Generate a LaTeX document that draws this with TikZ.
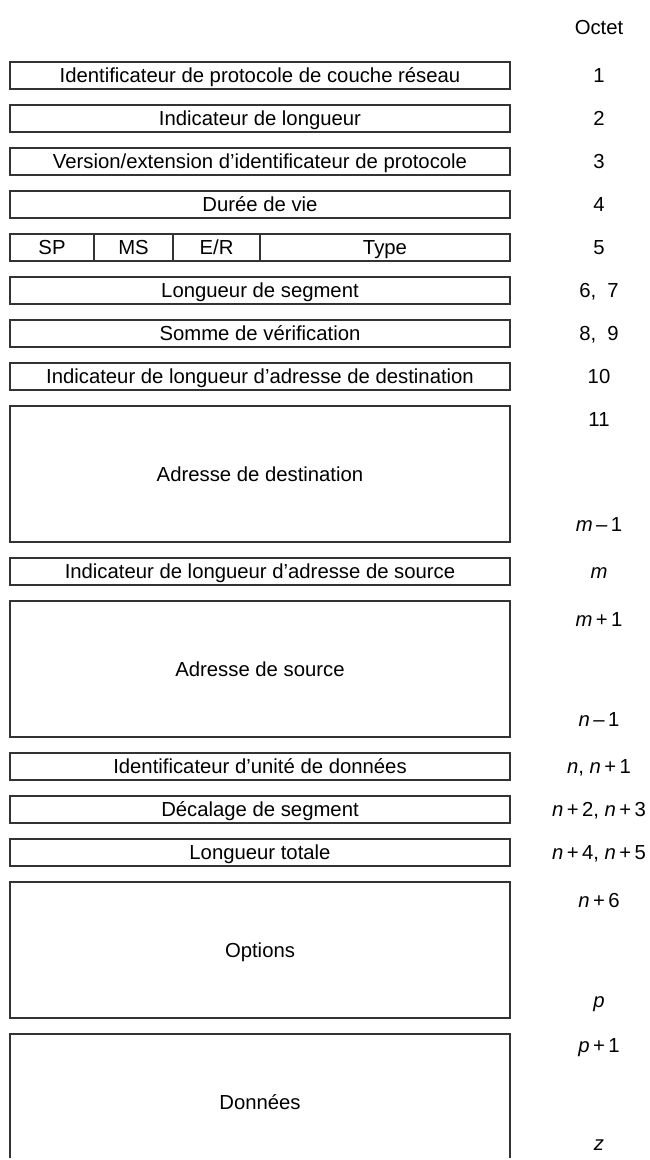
\documentclass[tikz,border=0pt]{standalone}
\usepackage{fontspec}
\setmainfont{Liberation Sans}
\usetikzlibrary{positioning}

\tikzset{
	trait/.style={draw=black!80, line width=1.1pt},
	champ/.style={trait, minimum width=500pt, minimum height=27pt, inner sep=0pt, outer sep=0pt,
		text height=14.6pt, text depth=0pt, font=\fontsize{20.3}{24}\selectfont},
	grandchamp/.style={champ, minimum height=136pt},
	num/.style={inner sep=0pt, text height=14.6pt, text depth=0pt,
		font=\fontsize{20.3}{24}\selectfont},
}

\begin{document}
\begin{tikzpicture}[x=1pt, y=-1pt, node distance=16pt]
	\useasboundingbox (0,0) rectangle (649,1160);
	% colonne des octets
	\node[num] (oct) at (599,27) {Octet};
	% champs de l'en-tete
	\node[champ, anchor=north west] (idp) at (10,62) {Identificateur de protocole de couche réseau};
	\node[champ, below=of idp] (lgi) {Indicateur de longueur};
	\node[champ, below=of lgi] (ver) {Version/extension d'identificateur de protocole};
	\node[champ, below=of ver] (vie) {Durée de vie};
	\node[champ, below=of vie] (typ) {};
	\node[champ, below=of typ] (lgs) {Longueur de segment};
	\node[champ, below=of lgs] (som) {Somme de vérification};
	\node[champ, below=of som] (ild) {Indicateur de longueur d'adresse de destination};
	\node[grandchamp, below=of ild] (dst) {Adresse de destination};
	\node[champ, below=of dst] (ils) {Indicateur de longueur d'adresse de source};
	\node[grandchamp, below=of ils] (src) {Adresse de source};
	\node[champ, below=of src] (idu) {Identificateur d'unité de données};
	\node[champ, below=of idu] (dec) {Décalage de segment};
	\node[champ, below=of dec] (lgt) {Longueur totale};
	\node[grandchamp, below=of lgt] (opt) {Options};
	\node[grandchamp, draw=none, below=of opt] (don) {Données};
	\draw[trait] ([yshift=12pt]don.south west) -- (don.north west) -- (don.north east) -- ([yshift=12pt]don.south east);

	% octet 5 : SP, MS, E/R, Type
	\draw[trait] ([xshift=84pt]typ.north west) -- ([xshift=84pt]typ.south west);
	\draw[trait] ([xshift=163pt]typ.north west) -- ([xshift=163pt]typ.south west);
	\draw[trait] ([xshift=250pt]typ.north west) -- ([xshift=250pt]typ.south west);
	\node[num] (sp) at ([xshift=42pt]typ.west) {SP};
	\node[num] (ms) at ([xshift=123.5pt]typ.west) {MS};
	\node[num] (er) at ([xshift=206.5pt]typ.west) {E/R};
	\node[num] (ty) at ([xshift=375pt]typ.west) {Type};

	% numeros d'octet
	\node[num] at (idp -| oct) {1};
	\node[num] at (lgi -| oct) {2};
	\node[num] at (ver -| oct) {3};
	\node[num] at (vie -| oct) {4};
	\node[num] at (typ -| oct) {5};
	\node[num] at (lgs -| oct) {6,\ \ 7};
	\node[num] at (som -| oct) {8,\ \ 9};
	\node[num] at (ild -| oct) {10};
	\node[num] at ([yshift=-13pt]dst.north -| oct) {11};
	\node[num] at ([yshift=18pt]dst.south -| oct) {\textit{m}\,–\,1};
	\node[num] at (ils -| oct) {\textit{m}};
	\node[num] at ([yshift=-18pt]src.north -| oct) {\textit{m}\,+\,1};
	\node[num] at ([yshift=18pt]src.south -| oct) {\textit{n}\,–\,1};
	\node[num] at (idu -| oct) {\textit{n}, \textit{n}\,+\,1};
	\node[num] at (dec -| oct) {\textit{n}\,+\,2, \textit{n}\,+\,3};
	\node[num] at (lgt -| oct) {\textit{n}\,+\,4, \textit{n}\,+\,5};
	\node[num] at ([yshift=-18pt]opt.north -| oct) {\textit{n}\,+\,6};
	\node[num] at ([yshift=18pt]opt.south -| oct) {\textit{p}};
	\node[num] at ([yshift=-11pt]don.north -| oct) {\textit{p}\,+\,1};
	\node[num] at ([yshift=27pt]don.south -| oct) {\textit{z}};
\end{tikzpicture}
\end{document}
